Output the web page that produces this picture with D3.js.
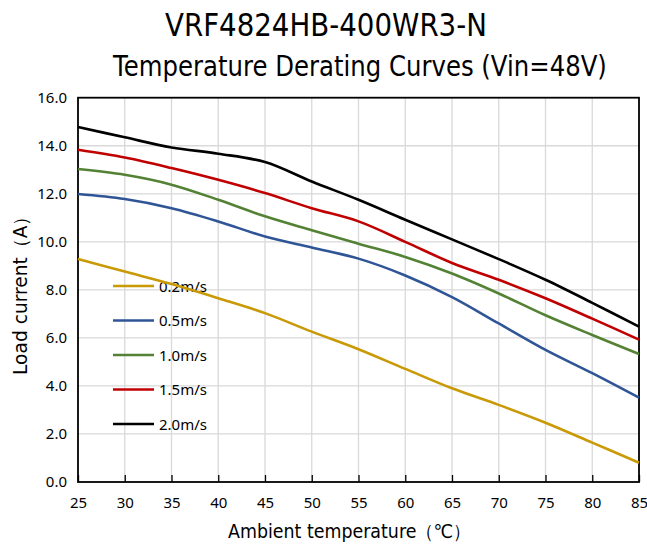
<!DOCTYPE html>
<html>
<head>
<meta charset="utf-8">
<script src="https://cdn.jsdelivr.net/npm/d3@7"></script>
<style>
  body { margin: 0; background: #fff; }
  svg { display: block; }
</style>
</head>
<body>
<svg id="chart" width="647" height="544"></svg>
<script>
// data
const temps = [25, 30, 35, 40, 45, 50, 55, 60, 65, 70, 75, 80, 85];
const airflow = ["0.2m/s", "0.5m/s", "1.0m/s", "1.5m/s", "2.0m/s"];
const s02 = [9.28, 8.76, 8.24, 7.65, 7.03, 6.26, 5.53, 4.71, 3.90, 3.21, 2.47, 1.64, 0.80];
const s05 = [11.99, 11.78, 11.40, 10.85, 10.22, 9.76, 9.30, 8.60, 7.70, 6.60, 5.50, 4.53, 3.51];
const s10 = [13.03, 12.79, 12.38, 11.75, 11.06, 10.48, 9.92, 9.37, 8.68, 7.85, 6.94, 6.12, 5.33];
const s15 = [13.83, 13.51, 13.07, 12.58, 12.03, 11.40, 10.85, 10.00, 9.12, 8.42, 7.65, 6.80, 5.93];
const s20 = [14.78, 14.35, 13.93, 13.67, 13.32, 12.51, 11.75, 10.92, 10.10, 9.28, 8.42, 7.46, 6.47];
const yTicks = [0, 2, 4, 6, 8, 10, 12, 14, 16];
const colors = ["#C99A06", "#2F5597", "#548235", "#C00000", "#000000"];

const allSeries = [s02, s05, s10, s15, s20];

const svg = d3.select("#chart");
const mLeft = 78, mRight = 639, mTop = 97.7, mBottom = 482;

const x = d3.scaleLinear().domain([25, 85]).range([mLeft, mRight]);
const y = d3.scaleLinear().domain([0, 16]).range([mBottom, mTop]);

// squeeze a text horizontally to a given width, keeping its height
function fitText(px, py, width, size, str, rot) {
  const t = svg.append("text")
    .style("font-family", "DejaVu Sans").style("font-size", size + "px")
    .text(str);
  const sx = width / t.node().getComputedTextLength();
  t.attr("transform", "translate(" + px + "," + py + ")" + (rot ? " rotate(" + rot + ")" : "") + " scale(" + sx + ",1)");
  return t;
}

// titles
fitText(165, 36, 322, 32, "VRF4824HB-400WR3-N");
fitText(113, 76, 494, 28, "Temperature Derating Curves (Vin=48V)");

// grid
const grid = svg.append("g").attr("stroke", "#d9d9d9").attr("stroke-width", 1.3);
grid.selectAll("line.v").data(temps.slice(1, -1)).enter().append("line")
  .attr("x1", d => x(d)).attr("x2", d => x(d)).attr("y1", mTop).attr("y2", mBottom);
grid.selectAll("line.h").data(yTicks.slice(1, -1)).enter().append("line")
  .attr("x1", mLeft).attr("x2", mRight).attr("y1", d => y(d)).attr("y2", d => y(d));

// axes
const xAxis = d3.axisBottom(x).tickValues(temps).tickSize(-7).tickPadding(15).tickFormat(d3.format("d"));
const gx = svg.append("g").attr("transform", "translate(0," + mBottom + ")").call(xAxis);
gx.select(".domain").remove();
gx.selectAll("line").attr("stroke", "#000").attr("stroke-width", 1.3);
gx.selectAll("text").style("font-family", "Noto Sans").style("font-size", "15px").attr("fill", "#000");

const yAxis = d3.axisLeft(y).tickValues(yTicks).tickSize(0).tickPadding(11).tickFormat(d3.format(".1f"));
const gy = svg.append("g").attr("transform", "translate(" + mLeft + ",0)").call(yAxis);
gy.select(".domain").remove();
gy.selectAll("text").style("font-family", "Noto Sans").style("font-size", "15px").attr("fill", "#000");

// frame
svg.append("rect")
  .attr("x", mLeft).attr("y", mTop).attr("width", mRight - mLeft).attr("height", mBottom - mTop)
  .attr("fill", "none").attr("stroke", "#000").attr("stroke-width", 1.8);

// legend
const leg = svg.append("g");
airflow.forEach((name, i) => {
  const ly = 286 + i * 34.5;
  leg.append("line").attr("x1", 113).attr("x2", 154).attr("y1", ly).attr("y2", ly)
    .attr("stroke", colors[i]).attr("stroke-width", 2.5);
  leg.append("text").attr("x", 159).attr("y", ly + 5.5)
    .style("font-family", "Noto Sans").style("font-size", "15px")
    .text(name);
});

// curves
const line = d3.line()
  .x((d, i) => x(temps[i]))
  .y(d => y(d))
  .curve(d3.curveCatmullRom.alpha(0.5));

svg.append("g").selectAll("path").data(allSeries).enter().append("path")
  .attr("d", line)
  .attr("fill", "none")
  .attr("stroke", (d, i) => colors[i])
  .attr("stroke-width", 2.6);

// axis titles
fitText(228, 538, 243, 19, "Ambient temperature（℃）");
fitText(27, 375, 168, 19, "Load current（A）", -90);
</script>
</body>
</html>
